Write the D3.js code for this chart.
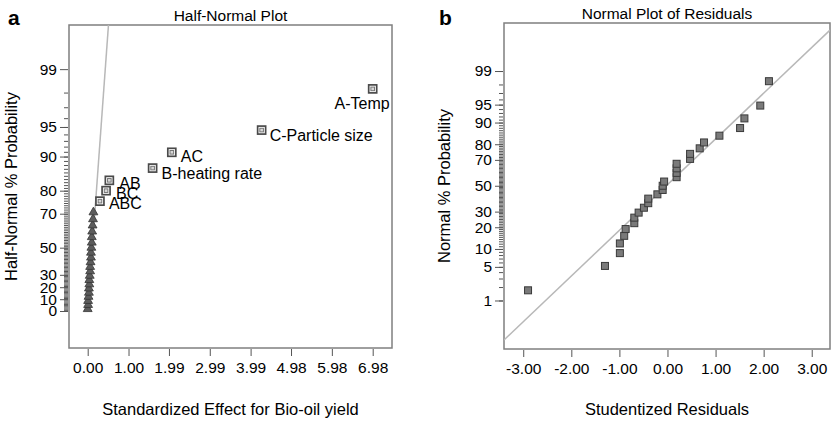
<!DOCTYPE html>
<html>
<head>
<meta charset="utf-8">
<script src="https://cdn.jsdelivr.net/npm/d3@7"></script>
<style>
  body { margin: 0; background: #fff; }
  text { font-family: "Liberation Sans", Arial, sans-serif; fill: #000; }
</style>
</head>
<body>
<div id="chart"></div>
<script>
// Panel a: half-normal plot of the effects on bio-oil yield
const termNames = ["A-Temp", "C-Particle size", "AC", "B-heating rate", "AB", "BC", "ABC"];
const termEffects = [6.98, 4.26, 2.06, 1.59, 0.53, 0.45, 0.30];
const termProbs = [98.2, 94.6, 90.9, 87.2, 83.6, 80.0, 75.8];

// error estimates (triangles)
const errorEffects = [0.00, 0.01, 0.01, 0.02, 0.03, 0.03, 0.04, 0.04, 0.05, 0.06, 0.06,
                      0.07, 0.08, 0.08, 0.09, 0.10, 0.10, 0.11, 0.12, 0.13, 0.14];
const errorProbs = [1.7, 5.2, 8.6, 12.1, 15.5, 19.0, 22.4, 25.9, 29.3, 32.8, 36.2,
                    39.7, 43.1, 46.6, 50.0, 53.4, 56.9, 60.3, 63.8, 67.2, 70.7];

const halfTickProbs = [0, 10, 20, 30, 50, 70, 80, 90, 95, 99];
const effectTicks = [0, 1.00, 1.99, 2.99, 3.99, 4.98, 5.98, 6.98];
const halfLine = { effect: [0, 0.53], prob: [0, 99.85] };

// Panel b: normal plot of residuals
const residuals = [-2.90, -1.30, -0.99, -0.99, -0.90, -0.87, -0.69, -0.69, -0.60, -0.49,
                   -0.40, -0.40, -0.21, -0.10, -0.10, -0.07, 0.19, 0.19, 0.19, 0.19,
                   0.47, 0.47, 0.67, 0.76, 1.08, 1.51, 1.60, 1.93, 2.11];
const residualProbs = [1.7, 5.2, 8.6, 12.1, 15.5, 19.0, 22.4, 25.9, 29.3, 32.8,
                       36.2, 39.7, 43.1, 46.6, 50.0, 53.4, 56.9, 60.3, 63.8, 67.2,
                       70.7, 74.1, 77.6, 81.0, 84.5, 87.9, 91.4, 94.8, 98.3];
const normalTickProbs = [1, 5, 10, 20, 30, 50, 70, 80, 90, 95, 99];
const residualTicks = [-3, -2, -1, 0, 1, 2, 3];
const normalLine = { resid: [-3.40, 3.38], prob: [0.088, 99.92] };

// inverse of the standard normal cdf (Acklam)
function probit(p) {
  const a = [-39.69683028665376, 220.9460984245205, -275.9285104469687, 138.3577518672690, -30.66479806614716, 2.506628277459239];
  const b = [-54.47609879822406, 161.5858368580409, -155.6989798598866, 66.80131187851445, -13.28068155288572];
  const c = [-0.007784894002430293, -0.3223964580411365, -2.400758277161838, -2.549732539343734, 4.374664141464968, 2.938163982698783];
  const d = [0.007784695709041462, 0.3224671290700398, 2.445134137142996, 3.754408661907416];
  const pl = 0.02425;
  let q, r;
  if (p < pl) {
    q = Math.sqrt(-2 * Math.log(p));
    return (((((c[0]*q+c[1])*q+c[2])*q+c[3])*q+c[4])*q+c[5]) / ((((d[0]*q+d[1])*q+d[2])*q+d[3])*q+1);
  }
  if (p <= 1 - pl) {
    q = p - 0.5; r = q * q;
    return (((((a[0]*r+a[1])*r+a[2])*r+a[3])*r+a[4])*r+a[5])*q / (((((b[0]*r+b[1])*r+b[2])*r+b[3])*r+b[4])*r+1);
  }
  q = Math.sqrt(-2 * Math.log(1 - p));
  return -(((((c[0]*q+c[1])*q+c[2])*q+c[3])*q+c[4])*q+c[5]) / ((((d[0]*q+d[1])*q+d[2])*q+d[3])*q+1);
}
const halfZ = p => probit((1 + p / 100) / 2);
const normZ = p => probit(p / 100);

const width = 831, height = 422;
const svg = d3.select("#chart").append("svg")
    .attr("width", width)
    .attr("height", height);

const frameColor = "#7f7f7f";
const tickColor = "#555";
const lineColor = "#b8b8b8";

function minorProbs(maxP) {
  const out = [];
  for (let p = 1; p <= maxP; p++) out.push(p);
  return out;
}

function drawFrame(box, id) {
  svg.append("clipPath").attr("id", id)
    .append("rect")
      .attr("x", box.left).attr("y", box.top)
      .attr("width", box.right - box.left).attr("height", box.bottom - box.top);
  svg.append("rect")
      .attr("x", box.left).attr("y", box.top)
      .attr("width", box.right - box.left).attr("height", box.bottom - box.top)
      .attr("fill", "none")
      .attr("stroke", frameColor)
      .attr("stroke-width", 1.5);
}

function styleAxis(g, fontSize) {
  g.select(".domain").remove();
  g.selectAll(".tick line").attr("stroke", tickColor);
  g.selectAll(".tick text")
    .attr("font-size", fontSize)
    .attr("font-family", "Liberation Sans, Arial, sans-serif")
    .attr("fill", "#000");
}

function drawYAxis(box, y, zOf, majors, minors) {
  svg.append("g")
      .attr("transform", `translate(${box.left - 1},0)`)
      .call(d3.axisLeft(y).tickValues(minors.map(zOf)).tickSize(4).tickFormat(""))
      .call(g => styleAxis(g, 15));
  svg.append("g")
      .attr("transform", `translate(${box.left - 1},0)`)
      .call(d3.axisLeft(y).tickValues(majors.map(zOf)).tickSize(8).tickPadding(3)
        .tickFormat((d, i) => majors[i]))
      .call(g => styleAxis(g, 15.5));
}

function drawXAxis(box, x, ticks) {
  svg.append("g")
      .attr("transform", `translate(0,${box.bottom + 1})`)
      .call(d3.axisBottom(x).tickValues(ticks).tickSize(7).tickPadding(6)
        .tickFormat(d => d.toFixed(2)))
      .call(g => styleAxis(g, 15.5));
}

function drawTitles(box, letter, letterX, title, titleY, xTitle, yTitle, yTitleX) {
  const cx = (box.left + box.right) / 2;
  const cy = (box.top + box.bottom) / 2;
  svg.append("text")
      .attr("x", letterX).attr("y", 25)
      .attr("font-size", 21).attr("font-weight", "bold")
      .text(letter);
  svg.append("text")
      .attr("x", cx).attr("y", titleY)
      .attr("text-anchor", "middle")
      .attr("font-size", 15.5)
      .text(title);
  svg.append("text")
      .attr("x", cx).attr("y", 415)
      .attr("text-anchor", "middle")
      .attr("font-size", 16.5)
      .text(xTitle);
  svg.append("text")
      .attr("transform", `translate(${yTitleX},${cy}) rotate(-90)`)
      .attr("text-anchor", "middle")
      .attr("font-size", 16.5)
      .text(yTitle);
}

// ---------- panel a ----------
const boxA = { left: 69, top: 25, right: 392, bottom: 348 };
const xA = d3.scaleLinear().domain([-0.458, 7.453]).range([boxA.left, boxA.right]);
const yA = d3.scaleLinear().domain([-0.394, 3.046]).range([boxA.bottom, boxA.top]);

drawFrame(boxA, "clipA");

svg.append("line")
    .attr("clip-path", "url(#clipA)")
    .attr("x1", xA(halfLine.effect[0])).attr("y1", yA(halfZ(halfLine.prob[0])))
    .attr("x2", xA(halfLine.effect[1])).attr("y2", yA(halfZ(halfLine.prob[1])))
    .attr("stroke", lineColor)
    .attr("stroke-width", 1.5);

const errors = errorEffects.map((e, i) => ({ effect: e, prob: errorProbs[i] }));
svg.append("g").selectAll("path")
  .data(errors)
  .enter().append("path")
    .attr("d", d3.symbol(d3.symbolTriangle, 34))
    .attr("transform", d => `translate(${xA(d.effect)},${yA(halfZ(d.prob))})`)
    .attr("fill", "#5c5c5c")
    .attr("stroke", "#333")
    .attr("stroke-width", 0.8);

const terms = termNames.map((n, i) => ({ name: n, effect: termEffects[i], prob: termProbs[i] }));
const termG = svg.append("g").selectAll("g")
  .data(terms)
  .enter().append("g")
    .attr("transform", d => `translate(${xA(d.effect)},${yA(halfZ(d.prob))})`);
termG.append("rect")
    .attr("x", -4).attr("y", -4).attr("width", 8).attr("height", 8)
    .attr("fill", "#fff")
    .attr("stroke", "#4a4a4a")
    .attr("stroke-width", 1.7);
termG.append("rect")
    .attr("x", -1.8).attr("y", -1.8).attr("width", 3.6).attr("height", 3.6)
    .attr("fill", "#d8d8d8")
    .attr("stroke", "#777")
    .attr("stroke-width", 1);

// label placement next to each marker
const labelPos = {
  "A-Temp": [17, 20, "end"],
  "C-Particle size": [8, 10.5, "start"],
  "AC": [9, 10, "start"],
  "B-heating rate": [9, 11, "start"],
  "AB": [10, 9, "start"],
  "BC": [10, 8.5, "start"],
  "ABC": [9, 7.5, "start"]
};
termG.append("text")
    .attr("x", d => labelPos[d.name][0])
    .attr("y", d => labelPos[d.name][1])
    .attr("text-anchor", d => labelPos[d.name][2])
    .attr("font-size", 16)
    .text(d => d.name);

drawYAxis(boxA, yA, halfZ, halfTickProbs, minorProbs(98));
drawXAxis(boxA, xA, effectTicks);
drawTitles(boxA, "a", 8, "Half-Normal Plot", 20.5,
  "Standardized Effect for Bio-oil yield", "Half-Normal % Probability", 16.5);

// ---------- panel b ----------
const boxB = { left: 504, top: 23, right: 830, bottom: 349 };
const xB = d3.scaleLinear().domain([-3.40, 3.38]).range([boxB.left, boxB.right]);
const yB = d3.scaleLinear().domain([-3.31, 3.30]).range([boxB.bottom, boxB.top]);

drawFrame(boxB, "clipB");

svg.append("line")
    .attr("clip-path", "url(#clipB)")
    .attr("x1", xB(normalLine.resid[0])).attr("y1", yB(normZ(normalLine.prob[0])))
    .attr("x2", xB(normalLine.resid[1])).attr("y2", yB(normZ(normalLine.prob[1])))
    .attr("stroke", lineColor)
    .attr("stroke-width", 1.5);

const points = residuals.map((r, i) => ({ resid: r, prob: residualProbs[i] }));
svg.append("g").selectAll("rect")
  .data(points)
  .enter().append("rect")
    .attr("x", d => xB(d.resid) - 3.5)
    .attr("y", d => yB(normZ(d.prob)) - 3.5)
    .attr("width", 7).attr("height", 7)
    .attr("fill", "#7a7a7a")
    .attr("stroke", "#3a3a3a")
    .attr("stroke-width", 1);

drawYAxis(boxB, yB, normZ, normalTickProbs, minorProbs(99));
drawXAxis(boxB, xB, residualTicks);
drawTitles(boxB, "b", 439, "Normal Plot of Residuals", 18.5,
  "Studentized Residuals", "Normal % Probability", 450);
</script>
</body>
</html>
